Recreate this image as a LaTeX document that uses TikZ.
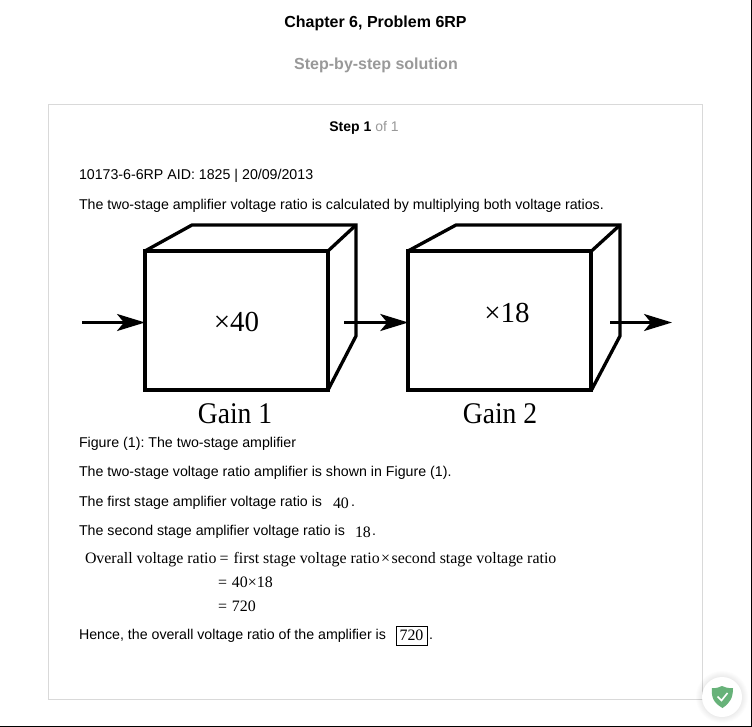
\documentclass[tikz,border=0pt]{standalone}
\usepackage{fontspec}
\setmainfont{Liberation Sans}
\newfontfamily\serifface{Liberation Serif}
\newfontfamily\gainface[FakeStretch=0.92]{Liberation Serif}
\usetikzlibrary{arrows.meta}
\definecolor{panelline}{HTML}{D9D9D9}
\definecolor{subgrey}{HTML}{999999}
\definecolor{shieldgreen}{HTML}{67B279}
\newcommand{\setsize}[1]{\fontsize{#1}{#1}\selectfont}
\frenchspacing
\tikzset{
  x=1pt,y=-1pt,
  txt/.style={anchor=base west,inner sep=0pt,outer sep=0pt,font=\setsize{14.2}},
  eq/.style={anchor=base west,inner sep=0pt,outer sep=0pt,font=\serifface\setsize{15.9}},
  cubefront/.style={draw=black,line width=4pt,minimum width=183pt,minimum height=139pt,inner sep=0pt,outer sep=0pt},
  cubeback/.style={draw=black,line width=3.3pt,line join=miter},
  flow/.style={draw=black,line width=2.8pt,-{Stealth[length=28pt,width=17pt,inset=7pt]}},
  cubelabel/.style={anchor=base,inner sep=0pt,font=\serifface\setsize{29}},
  gainlabel/.style={anchor=base,inner sep=0pt,font=\gainface\setsize{30}},
}
\begin{document}
\begin{tikzpicture}
\useasboundingbox (0,0) rectangle (752,727);
\fill[white] (0,0) rectangle (752,727);
\draw[black,line width=1pt] (0,726.5) -- (751.5,726.5) -- (751.5,0);
\node[anchor=base,inner sep=0pt,font=\bfseries\setsize{16}] (title) at (375.5,27.5) {Chapter 6, Problem 6RP};
\node[anchor=base,inner sep=0pt,font=\bfseries\setsize{16},text=subgrey] (sub) at (376,69.5) {Step-by-step solution};
\draw[panelline,line width=1pt] (48.5,104.5) rectangle (702.5,699.5);
\node[anchor=base,inner sep=0pt,font=\setsize{14}] (step) at (364,131.5) {\textbf{Step 1} \textcolor{subgrey}{of 1}};
\node[txt] (t1) at (79,180) {10173-6-6RP AID: 1825 | 20/09/2013};
\node[txt] (t2) at (79,210) {The two-stage amplifier voltage ratio is calculated by multiplying both voltage ratios.};
% cubes
\draw[cubeback] (145,251) -- (192,225) -- (356,225) -- (356,336) -- (328,390);
\draw[cubeback] (328,251) -- (356,225);
\node[cubefront] (g1) at (236.5,320.5) {};
\draw[cubeback] (408,251) -- (456,225) -- (620,225) -- (620,336) -- (591.5,390);
\draw[cubeback] (591.5,251) -- (620,225);
\node[cubefront] (g2) at (499.75,320.5) {};
\coordinate (in) at (82,322.5);
\coordinate (mid) at (344,322.5);
\coordinate (out) at (610,322.5);
\coordinate (end) at (672,322.5);
\draw[flow] (in) -- (g1.west |- in);
\draw[flow] (mid) -- (g2.west |- mid);
\draw[flow] (out) -- (end);
\node[cubelabel] (x1) at (236.5,331) {×40};
\node[cubelabel] (x2) at (507,323) {×18};
\node[gainlabel] (l1) at (235,423.5) {Gain 1};
\node[gainlabel] (l2) at (500,423.5) {Gain 2};
\node[txt] (t3) at (79,447) {Figure (1): The two-stage amplifier};
\node[txt] (t4) at (79,476) {The two-stage voltage ratio amplifier is shown in Figure (1).};
\node[txt] (t5) at (79,506) {The first stage amplifier voltage ratio is};
\node[eq] (v1) at (333,508) {40};
\node[txt] (p1) at (351,506) {.};
\node[txt] (t6) at (79,535) {The second stage amplifier voltage ratio is};
\node[eq] (v2) at (355,537) {18};
\node[txt] (p2) at (372,535) {.};
\node[eq] (e1) at (85,563) {Overall voltage ratio\hspace{3pt}=\hspace{5pt}first stage voltage ratio\hspace{1.5pt}×\hspace{1.5pt}second stage voltage ratio};
\node[eq] (e2) at (218,587) {=\hspace{5pt}40×18};
\node[eq] (e3) at (218,611) {=\hspace{5pt}720};
\node[txt] (t7) at (79,639) {Hence, the overall voltage ratio of the amplifier is};
\node[eq,draw=black,line width=0.7pt,anchor=center,minimum width=31pt,minimum height=19pt,inner sep=0pt] (ans) at (411.5,635.5) {720};
\node[txt] (p3) at (429,639) {.};
% badge
\foreach \r in {26,25,24,23,22,21}{\fill[black,opacity=0.012] (722,697) circle (\r);}
\fill[white] (722,697) circle (20);
\fill[shieldgreen] (722,686) .. controls (716,689) and (712,688) .. (712,688) .. controls (711,698) and (714,703) .. (722.5,708) .. controls (730,703) and (733,698) .. (733,688) .. controls (733,688) and (728,689) .. (722,686) -- cycle;
\draw[white,line width=1.6pt] (717.5,696.5) -- (721.5,700.5) -- (727.5,693);
\end{tikzpicture}
\end{document}
